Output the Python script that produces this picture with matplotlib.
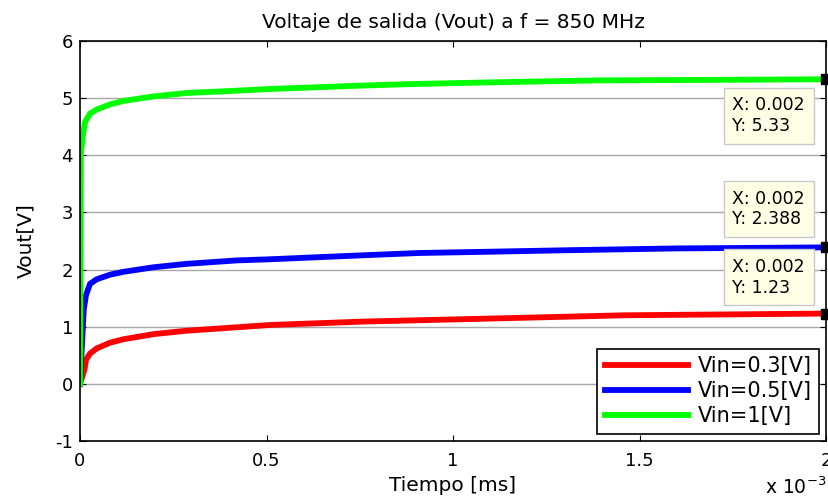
import numpy as np
import matplotlib.pyplot as plt
from matplotlib.ticker import FuncFormatter

plt.rcParams['font.family'] = ['DejaVu Sans']
plt.rcParams['axes.unicode_minus'] = False

# tiempo [s] y tension de salida [V]
t_03 = [0, 1.2e-5, 1.6e-5, 2.68e-5, 4.48e-5, 8.04e-5, 1.16e-4, 1.97e-4, 2.86e-4, 4.2e-4,
        5.09e-4, 7.6e-4, 1.21e-3, 1.46e-3, 2.0e-3]
v_03 = [0, 0.25, 0.42, 0.53, 0.62, 0.72, 0.78, 0.87, 0.93, 0.99,
        1.03, 1.09, 1.16, 1.20, 1.23]

t_05 = [0, 1.0e-5, 1.6e-5, 2.68e-5, 4.48e-5, 8.04e-5, 1.16e-4, 1.97e-4, 2.86e-4, 4.2e-4,
        5.09e-4, 7.59e-4, 9.1e-4, 1.08e-3, 1.32e-3, 1.6e-3, 2.0e-3]
v_05 = [0, 1.30, 1.55, 1.75, 1.83, 1.91, 1.96, 2.04, 2.10, 2.16,
        2.18, 2.25, 2.29, 2.31, 2.34, 2.37, 2.388]

t_1 = [0, 2e-6, 7e-6, 1.34e-5, 2.68e-5, 4.48e-5, 8.04e-5, 1.16e-4, 1.97e-4, 2.86e-4, 4.2e-4,
       5.09e-4, 7.59e-4, 9.12e-4, 1.134e-3, 1.389e-3, 1.716e-3, 2.0e-3]
v_1 = [0, 4.00, 4.32, 4.58, 4.73, 4.80, 4.89, 4.95, 5.03, 5.09, 5.13,
       5.16, 5.22, 5.25, 5.28, 5.31, 5.32, 5.33]

labels = ['Vin=0.3[V]', 'Vin=0.5[V]', 'Vin=1[V]']
colors = ['#ff0000', '#0000ff', '#00ff00']

tip_x = [0.002, 0.002, 0.002]
tip_y = [1.23, 2.388, 5.33]
tip_txt = ['1.23', '2.388', '5.33']


def main():
    fig = plt.figure(figsize=(8.29, 5.04), dpi=100)
    ax = fig.add_axes([0.0965, 0.125, 0.8999, 0.7937])

    series = [(t_03, v_03), (t_05, v_05), (t_1, v_1)]
    for (t, v), lab, c in zip(series, labels, colors):
        ax.plot(t, v, '-', color=c, lw=4.2, label=lab, solid_joinstyle='round')

    ax.set_xlim(0, 0.002)
    ax.set_ylim(-1, 6)
    ax.set_xticks([0, 0.0005, 0.001, 0.0015, 0.002])
    ax.set_yticks(range(-1, 7))
    ax.xaxis.set_major_formatter(FuncFormatter(lambda x, p: '%g' % round(x * 1000, 4)))
    ax.tick_params(direction='in', top=True, right=True, labelsize=13, length=4)
    ax.tick_params(axis='x', pad=8)
    ax.tick_params(axis='y', pad=5)
    ax.yaxis.grid(True, color='#a8a8a8', lw=1)
    ax.set_axisbelow(True)
    for s in ax.spines.values():
        s.set_linewidth(1.2)

    ax.set_title('Voltaje de salida (Vout) a f = 850 MHz', fontsize=14.5, pad=9)
    ax.set_xlabel('Tiempo [ms]', fontsize=14.5, labelpad=4)
    ax.set_ylabel('Vout[V]', fontsize=14.5, labelpad=14)
    fig.text(0.997, 0.012, r'x 10$^{-3}$', ha='right', va='bottom', fontsize=13.5)

    # marcadores de data tip
    ax.plot(tip_x, tip_y, 's', color='black', ms=7, clip_on=False, zorder=5)
    offsets = [(-21, 17, 'bottom'), (-21, 19, 'bottom'), (-21, -17, 'top')]
    for x, y, txt, (dx, dy, va) in zip(tip_x, tip_y, tip_txt, offsets):
        ax.annotate('X: 0.002\nY: ' + txt, xy=(x, y), xytext=(dx, dy),
                    textcoords='offset pixels', ha='right', va=va, multialignment='left',
                    fontsize=12.5,
                    bbox=dict(boxstyle='square,pad=0.5', fc='#ffffe6', ec='#c8c8c8', lw=1),
                    zorder=6)

    leg = ax.legend(loc='lower right', fontsize=15, handlelength=4.0, handletextpad=0.45,
                    fancybox=False, edgecolor='black', framealpha=1, borderaxespad=0.35,
                    labelspacing=0.25, borderpad=0.35)
    leg.get_frame().set_linewidth(1.2)

    fig.savefig('out.png', dpi=100)


if __name__ == '__main__':
    main()
